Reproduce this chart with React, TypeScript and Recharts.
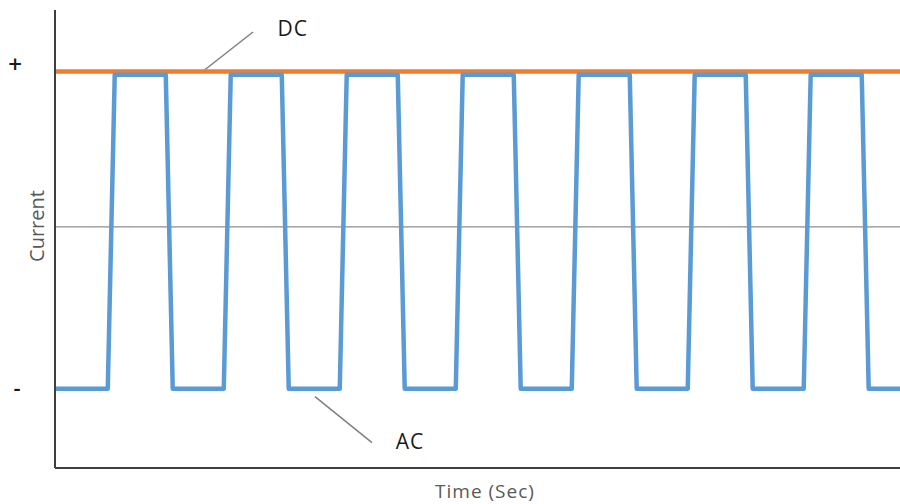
import React from "react";
import {
  Label,
  Line,
  LineChart,
  ReferenceDot,
  ReferenceLine,
  XAxis,
  YAxis,
} from "recharts";

// time positions of the square wave corners (half period = 1 unit)
const acTime = [
  0, 0.91, 1.03, 1.91, 2.03, 2.91, 3.03, 3.91, 4.03, 4.91, 5.03, 5.91, 6.03,
  6.91, 7.03, 7.91, 8.03, 8.91, 9.03, 9.91, 10.03, 10.91, 11.03, 11.91, 12.03,
  12.91, 13.03, 13.91, 14.03, 14.57,
];
const acCurrent = [
  -1, -1, 0.94, 0.94, -1, -1, 0.94, 0.94, -1, -1, 0.94, 0.94, -1, -1, 0.94,
  0.94, -1, -1, 0.94, 0.94, -1, -1, 0.94, 0.94, -1, -1, 0.94, 0.94, -1, -1,
];

const dcTime = [0, 14.57];
const dcCurrent = [0.96, 0.96];

const yTicks = [0.96, -1];
const yTickLabels = ["+", "-"];

const acData = acTime.map((t, i) => ({ t, v: acCurrent[i] }));
const dcData = dcTime.map((t, i) => ({ t, v: dcCurrent[i] }));

const FONT = "'Open Sans', 'Noto Sans', sans-serif";

function SignTick({ y, payload }: any) {
  const idx = yTicks.indexOf(payload.value);
  const plus = idx === 0;
  return (
    <text
      x={plus ? 15 : 17}
      y={plus ? y - 8 : y - 2}
      textAnchor="middle"
      dominantBaseline="central"
      fontFamily={FONT}
      fontSize={plus ? 24 : 22}
      fontWeight={600}
      fill="#1a1a1a"
    >
      {yTickLabels[idx]}
    </text>
  );
}

export default function App() {
  return (
    <div
      style={{
        position: "absolute",
        left: 0,
        top: 0,
        width: 900,
        height: 504,
        background: "#fff",
      }}
    >
      <LineChart
        width={900}
        height={504}
        margin={{ top: 10, right: 0, bottom: 0, left: 0 }}
      >
        <XAxis
          dataKey="t"
          type="number"
          domain={[0, 14.57]}
          allowDataOverflow
          tick={false}
          tickLine={false}
          height={36}
          axisLine={{ stroke: "#3f3f3f", strokeWidth: 2 }}
        >
          <Label
            content={() => (
              <text
                x={485}
                y={491}
                textAnchor="middle"
                dominantBaseline="central"
                fontFamily={FONT}
                fontSize={19}
                letterSpacing={1}
                fill="#595959"
              >
                Time (Sec)
              </text>
            )}
          />
        </XAxis>
        <YAxis
          type="number"
          domain={[-1.49, 1.34]}
          allowDataOverflow
          ticks={yTicks}
          tick={<SignTick />}
          tickLine={false}
          width={55}
          axisLine={{ stroke: "#3f3f3f", strokeWidth: 2 }}
        >
          <Label
            content={() => (
              <text
                x={36}
                y={226}
                textAnchor="middle"
                dominantBaseline="central"
                transform="rotate(-90 36 226)"
                fontFamily={FONT}
                fontSize={20}
                fill="#595959"
              >
                Current
              </text>
            )}
          />
        </YAxis>
        <ReferenceLine y={0} stroke="#8c8c8c" strokeWidth={1.2} />
        <ReferenceLine
          segment={[
            { x: 2.534, y: 0.957 },
            { x: 3.414, y: 1.204 },
          ]}
          stroke="#7f7f7f"
          strokeWidth={1.5}
        />
        <ReferenceLine
          segment={[
            { x: 4.483, y: -1.049 },
            { x: 5.466, y: -1.333 },
          ]}
          stroke="#7f7f7f"
          strokeWidth={1.5}
        />
        <ReferenceDot
          x={4.1}
          y={1.225}
          r={0}
          label={{
            value: "DC",
            position: "center",
            fontFamily: FONT,
            fontSize: 21,
            letterSpacing: 1,
            fill: "#1a1a1a",
          }}
        />
        <ReferenceDot
          x={6.12}
          y={-1.327}
          r={0}
          label={{
            value: "AC",
            position: "center",
            fontFamily: FONT,
            fontSize: 21,
            letterSpacing: 1,
            fill: "#1a1a1a",
          }}
        />
        <Line
          data={dcData}
          dataKey="v"
          type="linear"
          stroke="#ED7D31"
          strokeWidth={4.5}
          dot={false}
          isAnimationActive={false}
        />
        <Line
          data={acData}
          dataKey="v"
          type="linear"
          stroke="#5B9BD5"
          strokeWidth={4.5}
          strokeLinejoin="round"
          dot={false}
          isAnimationActive={false}
        />
      </LineChart>
    </div>
  );
}
